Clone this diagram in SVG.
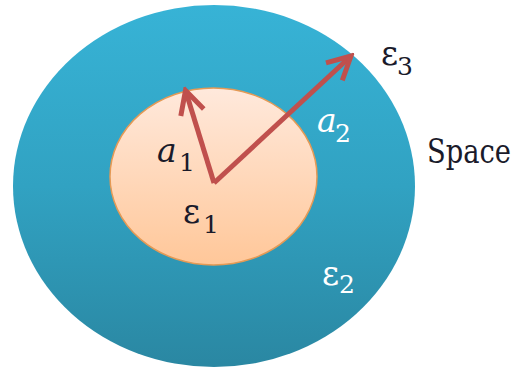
<svg xmlns="http://www.w3.org/2000/svg" width="519" height="375" viewBox="0 0 519 375">
<defs>
<linearGradient id="gBlue" x1="0" y1="0" x2="0" y2="1">
<stop offset="0" stop-color="#37b3d6"/>
<stop offset="0.5" stop-color="#31a2c2"/>
<stop offset="1" stop-color="#2a87a2"/>
</linearGradient>
<linearGradient id="gOrange" x1="0" y1="0" x2="0" y2="1">
<stop offset="0" stop-color="#ffe9dc"/>
<stop offset="1" stop-color="#ffc799"/>
</linearGradient>
<marker id="head" markerUnits="userSpaceOnUse" viewBox="-30 -16 34 32" markerWidth="34" markerHeight="32" refX="0" refY="0" orient="auto">
<path d="M-23,-12 L0,0 L-23,12" fill="none" stroke="#c0504d" stroke-width="5" stroke-linejoin="miter" stroke-linecap="butt"/>
</marker>
</defs>
<style>
text{font-family:'DejaVu Serif',serif;font-size:33px}
.it{font-style:italic}
.sub{font-size:25px;font-style:normal}
.dark{fill:#1a1a2a}
.light{fill:#ffffff}
.conn{fill:none;stroke:#c0504d;stroke-width:5;stroke-linecap:butt;stroke-linejoin:round}
</style>
<rect width="519" height="375" fill="#ffffff"/>
<g id="space-region">
<ellipse cx="214" cy="186" rx="201" ry="181" fill="url(#gBlue)"/>
</g>
<g id="inner-region">
<ellipse cx="213.5" cy="176.5" rx="103.5" ry="88.5" fill="url(#gOrange)" stroke="#e59a55" stroke-width="1.5"/>
</g>
<g id="connectors">
<line class="conn" x1="214" y1="183" x2="185.5" y2="90.5" marker-end="url(#head)"/>
<line class="conn" x1="214" y1="183" x2="351" y2="56" marker-end="url(#head)"/>
</g>
<g id="labels">
<text class="dark" x="157" y="162"><tspan class="it">a</tspan><tspan class="sub" x="179" y="171">1</tspan></text>
<text class="light" x="317" y="132"><tspan class="it">a</tspan><tspan class="sub" x="335" y="142">2</tspan></text>
<text class="dark" x="183" y="223">ε<tspan class="sub" x="203" y="233">1</tspan></text>
<text class="light" x="322" y="285">ε<tspan class="sub" x="339" y="293">2</tspan></text>
<text class="dark" x="381" y="65">ε<tspan class="sub" x="397" y="75">3</tspan></text>
<text class="dark" x="427" y="163" font-size="27" textLength="84" lengthAdjust="spacingAndGlyphs">Space</text>
</g>
</svg>
